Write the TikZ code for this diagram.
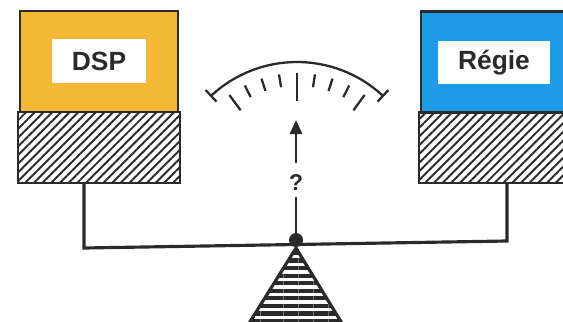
\documentclass[tikz,border=0pt]{standalone}
\usepackage{fontspec}
\setmainfont{Liberation Sans}
\usepackage{xcolor}
\usetikzlibrary{arrows.meta,patterns.meta}

\definecolor{ink}{HTML}{2A2A2A}
\definecolor{dspgold}{HTML}{F4B836}
\definecolor{regieblue}{HTML}{1E9BE8}

\begin{document}
\begin{tikzpicture}[
    x=0.02cm, y=0.02cm,
    panel/.style={rectangle, draw=ink, line width=1.2pt, minimum width=3.16cm, minimum height=2.02cm},
    hatchbox/.style={rectangle, draw=ink, line width=1.2pt, minimum width=3.24cm, minimum height=1.42cm,
        pattern={Lines[angle=45, distance=3.5pt, line width=1.1pt]}, pattern color=ink},
    tag/.style={rectangle, fill=white, text=ink, inner sep=0pt, font=\bfseries\fontsize{15}{17}\selectfont},
    beam/.style={draw=ink, line width=1.8pt},
    dial/.style={draw=ink, line width=1.3pt},
    needle/.style={-{Triangle[length=8pt, width=7pt]}, draw=ink, line width=1.4pt}
]
\clip (0,0) rectangle (563,321);

% left pan
\node[panel, fill=dspgold] (dsp) at (99,259.5) {};
\node[tag, minimum width=1.88cm, minimum height=0.88cm] (dsplabel) at (99,260) {DSP};
\node[hatchbox] (dsphatch) at (99,173.5) {};

% right pan
\node[panel, fill=regieblue] (regie) at (500,259) {};
\node[tag, minimum width=2.24cm, minimum height=0.86cm] (regielabel) at (494,258.5) {Régie};
\node[hatchbox] (regiehatch) at (500,173.5) {};

% beam
\coordinate (lend) at (84,73);
\coordinate (rend) at (507,80);
\draw[beam] (lend |- dsphatch.south) -- (lend) -- (rend) -- (rend |- regiehatch.south);

% stand
\coordinate (apex) at (296,73);
\coordinate (baseL) at (248,-4);
\coordinate (baseR) at (343,-4);
\fill[pattern={Lines[angle=0, distance=4.3pt, line width=2.4pt]}, pattern color=ink] (apex) -- (baseL) -- (baseR) -- cycle;
\draw[ink, line width=1.8pt, line join=round] (baseL) -- (apex) -- (baseR);
\node[circle, fill=ink, inner sep=0pt, minimum size=0.28cm] (pivot) at (296,81) {};

% dial
\coordinate (gc) at (297,133);
\draw[dial] ([shift={(133:126)}]gc) arc[start angle=133, end angle=47, radius=2.52cm];
\foreach \a in {133,47}
    \draw[dial] ([shift={(\a:118)}]gc) -- ([shift={(\a:134)}]gc);
\foreach \a/\l in {54/19, 63/13, 72/13, 81/13, 90/28, 99/13, 108/13, 117/13, 126/19}
    \draw[dial] ([shift={(\a:115)}]gc) -- ([shift={(\a:{115-\l})}]gc);

% pointer
\node[text=ink, inner sep=0pt, minimum height=0.8cm, font=\bfseries\fontsize{13}{15}\selectfont] (q) at (296,138) {?};
\coordinate (tip) at (296,201);
\draw[needle] (q) -- (tip);
\draw[ink, line width=1.4pt, shorten >=-3.5pt] (pivot) -- (q);
\end{tikzpicture}
\end{document}
